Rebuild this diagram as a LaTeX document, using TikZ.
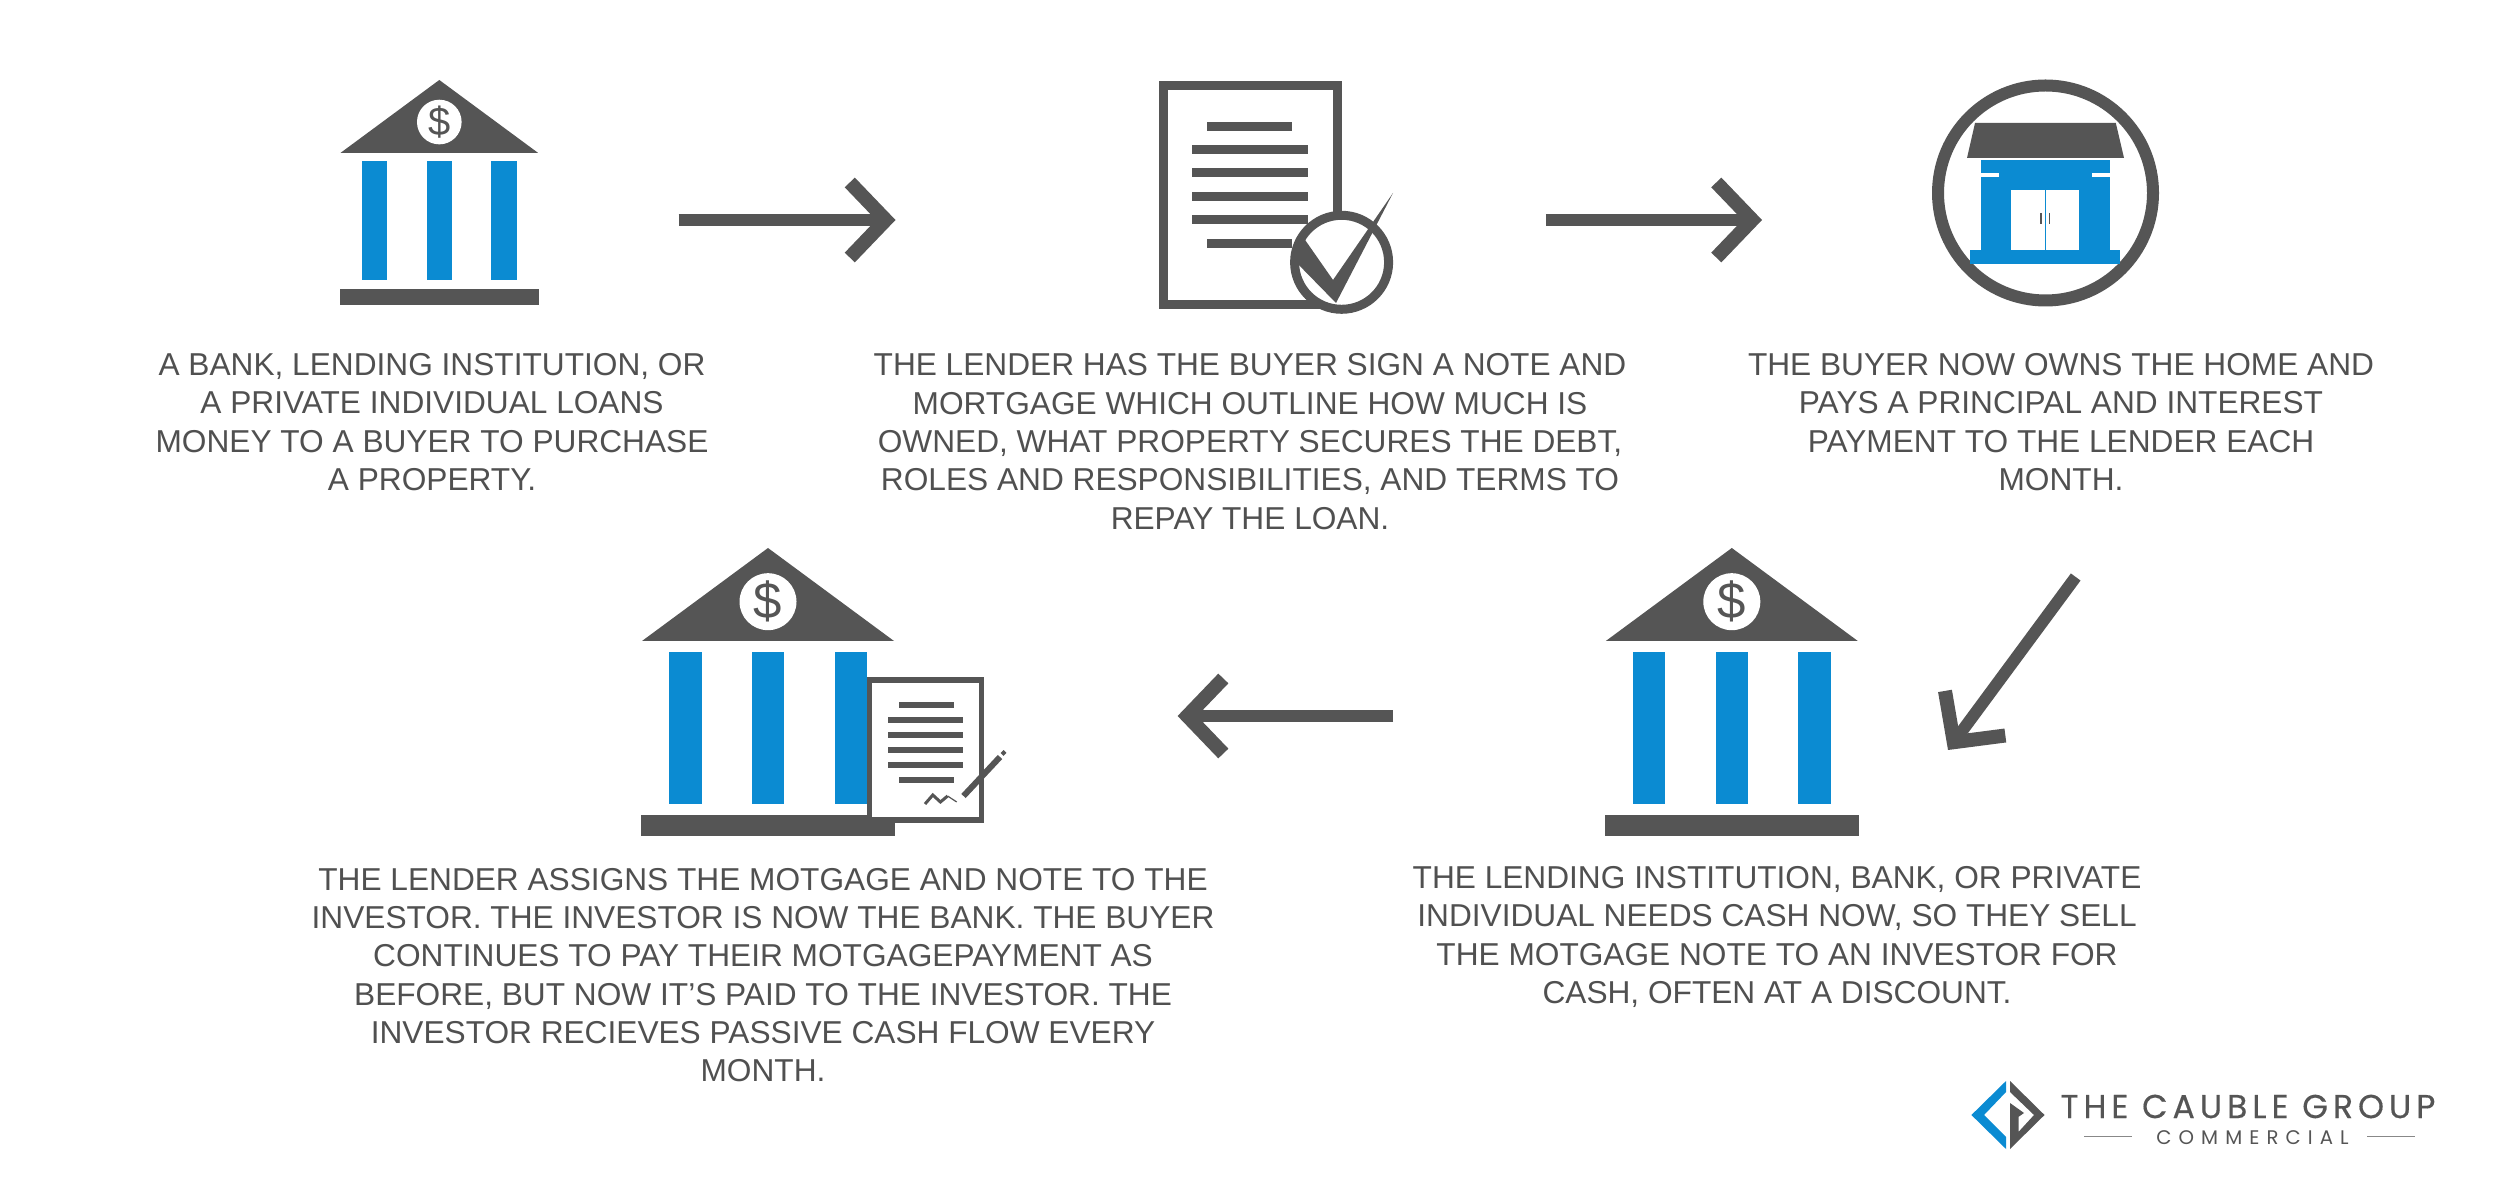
\documentclass[tikz,border=0pt]{standalone}
\usepackage{fontspec}
\usepackage{xcolor}
\usepackage{tikz}
\usetikzlibrary{arrows.meta}
\setmainfont{Liberation Sans}
\newfontfamily\logofont{Poppins}
\definecolor{iconGray}{HTML}{555555}
\definecolor{iconBlue}{HTML}{0B8BD2}
\definecolor{textGray}{HTML}{505050}
\tikzset{
    bigarrow/.style={draw=iconGray, line width=0.12cm, -{Straight Barb[length=0.36cm, width=0.75cm, line width=0.14cm]}},
    caption/.style={text=textGray, align=center, font=\fontsize{9}{10.9}\selectfont, inner sep=0pt},
}

\begin{document}
\begin{tikzpicture}[x=0.01cm, y=-0.01cm]
    % Fond
    \useasboundingbox (0, 0) rectangle (2500, 1183);
    \fill[white] (0, 0) rectangle (2500, 1183);

    % Banques (x, y du sommet, echelle)
    \foreach \bx/\by/\bs/\bname in {439.3/80/0.783/bankA, 1731.8/548/1/bankB, 768/548/1/bankC} {
        \begin{scope}[shift={(\bx, \by)}, scale=\bs]
            \fill[iconGray] (0, 0) -- (126, 93) -- (-126, 93) -- cycle;
            \fill[iconBlue] (-99, 104) rectangle (-66.5, 256);
            \fill[iconBlue] (-16, 104) rectangle (16, 256);
            \fill[iconBlue] (66.5, 104) rectangle (99, 256);
            \fill[iconGray] (-127, 267) rectangle (127, 288);
            \fill[white] (0, 53.7) circle (28.5);
            \node[text=iconGray, inner sep=0pt, scale=\bs, font=\fontsize{14.5}{14.5}\selectfont] (\bname) at (0, 53.7) {\$};
        \end{scope}
    }

    % Note et signature
    \draw[iconGray, line width=0.09cm, fill=white] (1163, 85.5) rectangle (1337, 304.5);
    \fill[iconGray] (1207, 122) rectangle (1292, 131);
    \foreach \ly in {145, 168.5, 192, 215.5} {
        \fill[iconGray] (1192, \ly) rectangle (1308, \ly + 9);
    }
    \fill[iconGray] (1207, 239) rectangle (1292, 248);
    \draw[iconGray, line width=0.09cm, fill=white] (1341.6, 262.3) circle (47);
    \fill[iconGray] (1304.4, 239) -- (1333, 280) -- (1393, 193) -- (1336, 303) -- (1291, 257) -- cycle;

    % Maison
    \draw[iconGray, line width=0.12cm] (2045.5, 193) circle (107.5);
    \fill[iconGray] (1975, 123) -- (2115.8, 123) -- (2124, 158) -- (1967, 158) -- cycle;
    \fill[iconBlue] (1981, 160) rectangle (2109.7, 264);
    \fill[iconBlue] (1970, 250) rectangle (2120, 264);
    \fill[white] (1981, 173) rectangle (1999, 177);
    \fill[white] (2091.5, 173) rectangle (2109.7, 177);
    \fill[white] (2011, 190) rectangle (2079, 250);
    \draw[iconBlue, line width=0.015cm] (2045.5, 190) -- (2045.5, 250);
    \draw[iconGray, line width=0.012cm] (2041, 213) -- (2041, 224);
    \draw[iconGray, line width=0.012cm] (2049.5, 213) -- (2049.5, 224);

    % Petit document sur la banque
    \draw[iconGray, line width=0.055cm, fill=white] (869.5, 680) rectangle (981.5, 820);
    \fill[iconGray] (898.6, 702.3) rectangle (953.7, 707.8);
    \foreach \ly in {717.5, 732.5, 747.5, 762.5} {
        \fill[iconGray] (888.4, \ly) rectangle (962.9, \ly + 5.5);
    }
    \fill[iconGray] (898.6, 777.5) rectangle (953.7, 783);
    \draw[iconGray, line width=0.03cm] (925, 804) -- (932.8, 795) -- (940.4, 802) -- (947.6, 796);
    \draw[iconGray, line width=0.012cm] (947.6, 796) -- (956.7, 802);
    \draw[iconGray, line width=0.06cm] (963.5, 796) -- (1000, 757);
    \draw[iconGray, line width=0.04cm] (1002, 754.5) -- (1005, 751.5);

    % Fleches
    \coordinate (arrowAstart) at (678.5, 220);
    \coordinate (arrowAend) at (895.5, 220);
    \coordinate (arrowBstart) at (1545.8, 220);
    \coordinate (arrowBend) at (1762, 220);
    \coordinate (arrowCstart) at (2075.7, 577);
    \coordinate (arrowCend) at (1948, 750);
    \coordinate (arrowDstart) at (1393, 716);
    \coordinate (arrowDend) at (1177.6, 716);
    \draw[bigarrow] (arrowAstart) -- (arrowAend);
    \draw[bigarrow] (arrowBstart) -- (arrowBend);
    \draw[bigarrow] (arrowCstart) -- (arrowCend);
    \draw[bigarrow] (arrowDstart) -- (arrowDend);

    % Textes
    \node[caption] (textA) at (432, 422) {A BANK, LENDING INSTITUTION, OR\\A PRIVATE INDIVIDUAL LOANS\\MONEY TO A BUYER TO PURCHASE\\A PROPERTY.};
    \node[caption] (textB) at (1250, 441.5) {THE LENDER HAS THE BUYER SIGN A NOTE AND\\MORTGAGE WHICH OUTLINE HOW MUCH IS\\OWNED, WHAT PROPERTY SECURES THE DEBT,\\ROLES AND RESPONSIBILITIES, AND TERMS TO\\REPAY THE LOAN.};
    \node[caption] (textC) at (2061, 422) {THE BUYER NOW OWNS THE HOME AND\\PAYS A PRINCIPAL AND INTEREST\\PAYMENT TO THE LENDER EACH\\MONTH.};
    \node[caption] (textD) at (763, 975) {THE LENDER ASSIGNS THE MOTGAGE AND NOTE TO THE\\INVESTOR. THE INVESTOR IS NOW THE BANK. THE BUYER\\CONTINUES TO PAY THEIR MOTGAGEPAYMENT AS\\BEFORE, BUT NOW IT'S PAID TO THE INVESTOR. THE\\INVESTOR RECIEVES PASSIVE CASH FLOW EVERY\\MONTH.};
    \node[caption] (textE) at (1777, 937) {THE LENDING INSTITUTION, BANK, OR PRIVATE\\INDIVIDUAL NEEDS CASH NOW, SO THEY SELL\\THE MOTGAGE NOTE TO AN INVESTOR FOR\\CASH, OFTEN AT A DISCOUNT.};

    % Logo
    \fill[iconBlue] (2006, 1081) -- (1971.4, 1115) -- (2006, 1149) -- (2006, 1137) -- (1984, 1115) -- (2006, 1092) -- cycle;
    \fill[iconGray] (2010, 1081) -- (2044.5, 1115) -- (2010, 1149) -- (2010, 1103) -- (2024, 1113) -- (2018.7, 1116.7) -- (2018.7, 1131.7) -- (2034, 1115) -- (2010, 1092) -- cycle;
    \node[text=iconGray, inner sep=0pt, font=\logofont\fontsize{9.4}{9.4}\selectfont\addfontfeatures{LetterSpace=15, FakeBold=0.4}] (logoName) at (2248, 1106.5) {THE CAUBLE GROUP};
    \node[text=iconGray, inner sep=0pt, font=\logofont\fontsize{5.6}{5.6}\selectfont\addfontfeatures{LetterSpace=36}] (logoSub) at (2252.5, 1137.5) {COMMERCIAL};
    \coordinate (ruleAstart) at (2084, 1136);
    \coordinate (ruleAend) at (2132, 1136);
    \coordinate (ruleBstart) at (2367, 1136);
    \coordinate (ruleBend) at (2415, 1136);
    \draw[iconGray!70, line width=0.01cm] (ruleAstart) -- (ruleAend);
    \draw[iconGray!70, line width=0.01cm] (ruleBstart) -- (ruleBend);
\end{tikzpicture}
\end{document}
